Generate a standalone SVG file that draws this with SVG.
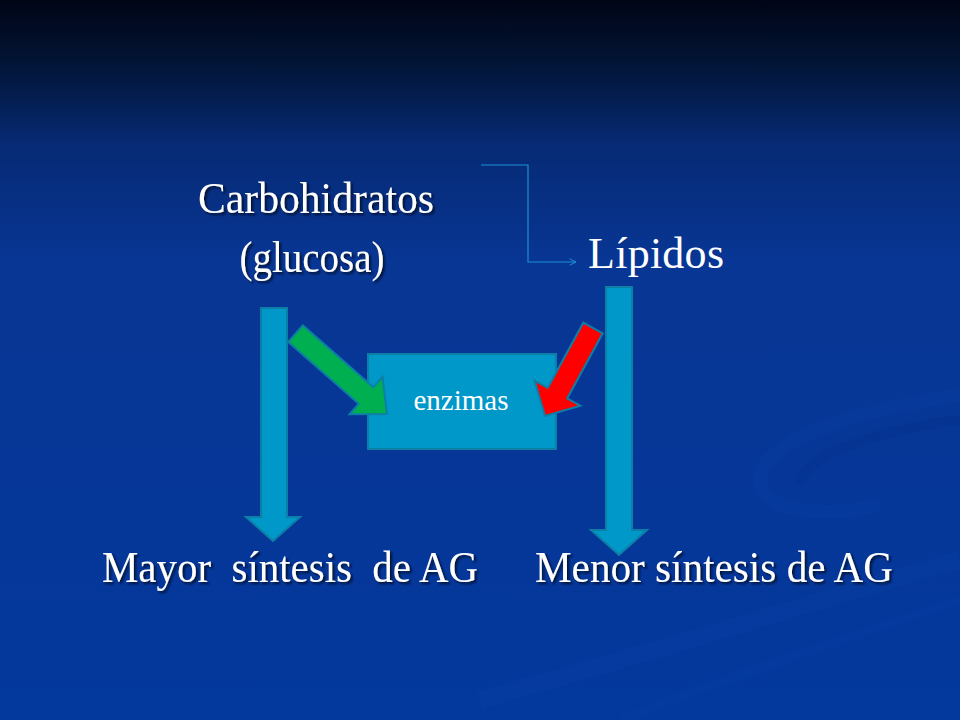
<svg xmlns="http://www.w3.org/2000/svg" width="960" height="720" viewBox="0 0 960 720">
<defs>
<linearGradient id="bg" x1="0" y1="0" x2="0" y2="1">
<stop offset="0" stop-color="#000516"/>
<stop offset="0.08" stop-color="#021332"/>
<stop offset="0.2" stop-color="#062a74"/>
<stop offset="0.36" stop-color="#083694"/>
<stop offset="1" stop-color="#03389c"/>
</linearGradient>
<filter id="sh" x="-10%" y="-30%" width="120%" height="160%">
<feDropShadow dx="2" dy="2" stdDeviation="0.8" flood-color="#000a2a" flood-opacity="0.9"/>
</filter>
<marker id="open" viewBox="0 0 10 10" refX="9" refY="5" markerWidth="8" markerHeight="8" orient="auto" markerUnits="userSpaceOnUse">
<path d="M1,1 L9,5 L1,9" fill="none" stroke="#1f8fd6" stroke-width="1.2"/>
</marker>
<style>
.t{font-family:"Liberation Serif","Times New Roman",serif;fill:#ffffff}
.big{font-size:44px}
.blue{fill:#0097c9;stroke:#0d7fa6;stroke-width:2}
.conn{fill:none;stroke:#1f8fd6;stroke-width:1.2}
</style>
</defs>
<rect x="0" y="0" width="960" height="720" fill="url(#bg)"/>
<g id="background-swooshes" fill="none">
<path d="M960,395 C860,410 760,440 760,480 C760,510 820,520 880,505" stroke="#0a3ea6" stroke-width="14" opacity="0.3"/>
<path d="M960,420 C880,430 800,455 800,485" stroke="#02308a" stroke-width="10" opacity="0.3"/>
<path d="M960,560 C820,600 660,650 480,700" stroke="#0a40a8" stroke-width="18" opacity="0.25"/>
<path d="M960,600 C840,640 720,680 620,720" stroke="#0a40a8" stroke-width="10" opacity="0.2"/>
</g>
<g id="connectors">
<path class="conn" d="M481,165 H528 V262 H576" marker-end="url(#open)"/>
</g>
<g id="node-carbohidratos">
<text class="t big" x="316" y="213" text-anchor="middle" textLength="236" lengthAdjust="spacingAndGlyphs" filter="url(#sh)">Carbohidratos</text>
<text class="t big" x="312" y="272" text-anchor="middle" textLength="145" lengthAdjust="spacingAndGlyphs" filter="url(#sh)">(glucosa)</text>
</g>
<g id="node-lipidos">
<text class="t" x="588" y="268" font-size="44" textLength="136">Lípidos</text>
</g>
<g id="arrow-left">
<polygon class="blue" points="261,308 287,308 287,517 300,517 273,541 246,517 261,517"/>
</g>
<g id="arrow-right">
<polygon class="blue" points="606,287 632,287 632,530 647,530 619,555 591,530 606,530"/>
</g>
<g id="node-enzimas">
<rect x="368" y="354" width="188" height="95" fill="#0097c9" stroke="#0d7fa6" stroke-width="2"/>
<text class="t" x="461" y="410" font-size="29" text-anchor="middle">enzimas</text>
</g>
<g id="arrow-green">
<polygon points="302.8,325.3 373.3,387.3 382.5,376.8 387,414 349.5,414.3 358.7,403.8 288.2,341.8" fill="#00b050" stroke="#0d7fa6" stroke-width="2" stroke-linejoin="miter"/>
</g>
<g id="arrow-red">
<polygon points="602.7,333.3 567.2,398.4 580.4,405.6 545,416 534.6,380.6 547.8,387.8 583.3,322.7" fill="#ff0000" stroke="#0d7fa6" stroke-width="2"/>
</g>
<g id="node-mayor">
<text class="t big" x="102" y="582" textLength="376" lengthAdjust="spacingAndGlyphs" xml:space="preserve" filter="url(#sh)">Mayor  síntesis  de AG</text>
</g>
<g id="node-menor">
<text class="t big" x="535" y="582" textLength="358" lengthAdjust="spacingAndGlyphs" filter="url(#sh)">Menor síntesis de AG</text>
</g>
</svg>
